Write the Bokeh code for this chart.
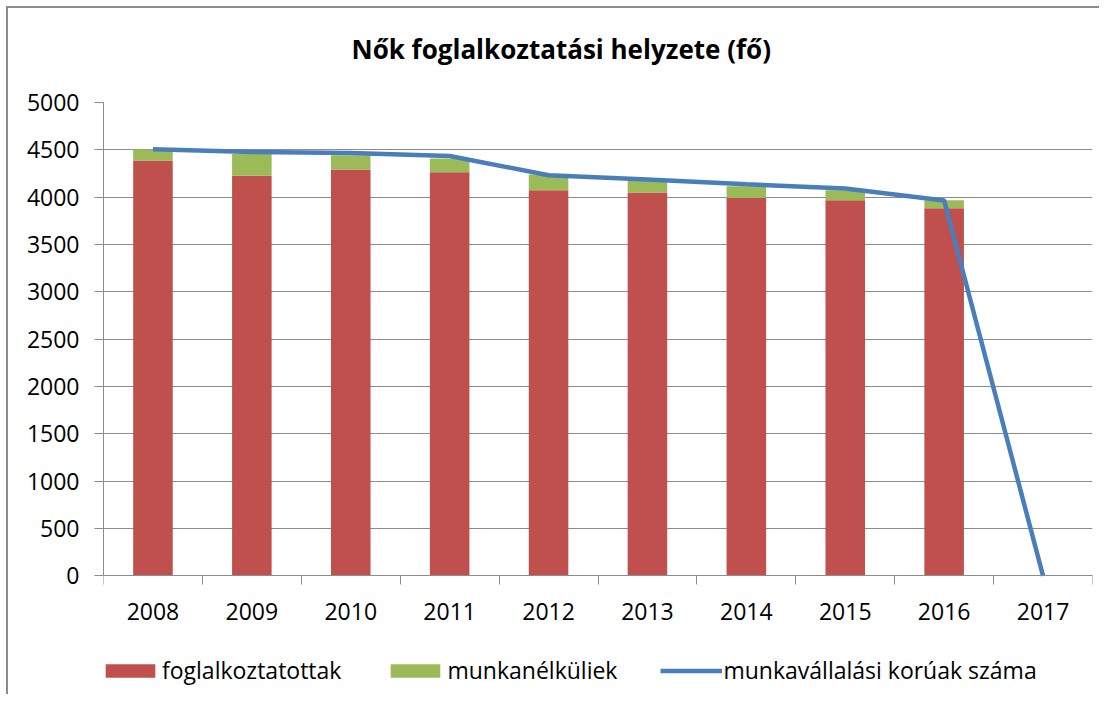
from bokeh.plotting import figure
from bokeh.models import (Range1d, FixedTicker, Legend, LegendItem, ColumnDataSource, Title)
from bokeh.embed import file_html
from bokeh.resources import INLINE

# ---- data ----
years = ["2008", "2009", "2010", "2011", "2012", "2013", "2014", "2015", "2016", "2017"]
foglalkoztatottak = [4387, 4225, 4292, 4264, 4074, 4049, 3992, 3968, 3884, 0]
munkanelkuliek = [116, 230, 152, 145, 166, 130, 124, 106, 84, 0]
munkavallalasi_koruak = [4506, 4478, 4466, 4435, 4232, 4186, 4137, 4091, 3966, 0]

title_text = "Nők foglalkoztatási helyzete (fő)"
series_names = ["foglalkoztatottak", "munkanélküliek", "munkavállalási korúak száma"]
y_ticks = list(range(0, 5001, 500))

RED = "#c0504d"
GREEN = "#9bbb59"
BLUE = "#4a7ebb"
GRID = "#8c8c8c"
FONT = "Open Sans"

xpos = [i + 0.5 for i in range(len(years))]
src = ColumnDataSource(dict(x=xpos, fog=foglalkoztatottak, munk=munkanelkuliek,
                            line=munkavallalasi_koruak))

# the frame reaches down to the canvas bottom so that the axis labels and the
# legend can sit inside it, under the zero line
p = figure(width=1093, height=688, output_backend="svg", toolbar_location=None,
           x_range=Range1d(0, len(years)), y_range=Range1d(-1274, 5000),
           min_border_left=95, min_border_right=9, min_border_top=94, min_border_bottom=0)
p.title = None

# a trailing blank line lifts the title away from the plot area
p.add_layout(Title(text=title_text + "\n ", align="left", offset=248, text_font=FONT,
                   text_font_style="bold", text_font_size="26px", text_color="#000000",
                   vertical_align="bottom", standoff=0), "above")

bars = p.vbar_stack(["fog", "munk"], x="x", width=0.4, color=[RED, GREEN],
                    line_color=None, source=src)
ln = p.line("x", "line", source=src, line_width=4.5, line_color=BLUE)

p.outline_line_color = None
p.background_fill_color = "white"
p.border_fill_color = "white"

# y axis
p.yaxis.bounds = (0, 5000)
p.yaxis.ticker = FixedTicker(ticks=y_ticks, minor_ticks=[])
p.yaxis.axis_line_color = GRID
p.yaxis.major_tick_line_color = GRID
p.yaxis.major_tick_out = 9
p.yaxis.major_tick_in = 0
p.yaxis.minor_tick_line_color = None
p.yaxis.major_label_standoff = 15
p.yaxis.major_label_text_font = FONT
p.yaxis.major_label_text_font_size = "23px"
p.yaxis.major_label_text_color = "#000000"

p.ygrid.ticker = FixedTicker(ticks=y_ticks)
p.ygrid.grid_line_color = GRID
p.ygrid.grid_line_width = 1
p.xgrid.grid_line_color = None

# x axis at zero: labels at centres, ticks at category boundaries
p.xaxis.fixed_location = 0
p.xaxis.ticker = FixedTicker(ticks=xpos, minor_ticks=list(range(len(years) + 1)))
p.xaxis.major_label_overrides = {x: y for x, y in zip(xpos, years)}
p.xaxis.axis_line_color = GRID
p.xaxis.major_tick_line_color = None
p.xaxis.major_tick_out = 0
p.xaxis.major_tick_in = 0
p.xaxis.minor_tick_line_color = GRID
p.xaxis.minor_tick_out = 9
p.xaxis.minor_tick_in = 0
p.xaxis.major_label_standoff = 18
p.xaxis.major_label_text_font = FONT
p.xaxis.major_label_text_font_size = "23px"
p.xaxis.major_label_text_color = "#000000"

legend = Legend(items=[LegendItem(label=series_names[0], renderers=[bars[0]]),
                       LegendItem(label=series_names[1], renderers=[bars[1]]),
                       LegendItem(label=series_names[2], renderers=[ln])],
                orientation="horizontal", location=(-4, 10),
                glyph_width=62, glyph_height=17, label_standoff=1, spacing=43,
                padding=0, margin=0, border_line_color=None, background_fill_alpha=0,
                label_text_font=FONT, label_text_font_size="23px", label_text_color="#000000",
                label_height=20)
p.add_layout(legend)

p.styles = {"border-left": "2px solid #8c8c8c", "border-top": "2px solid #8c8c8c",
            "margin-left": "6px", "margin-top": "6px"}

open("out.html", "w").write(file_html(p, INLINE))
